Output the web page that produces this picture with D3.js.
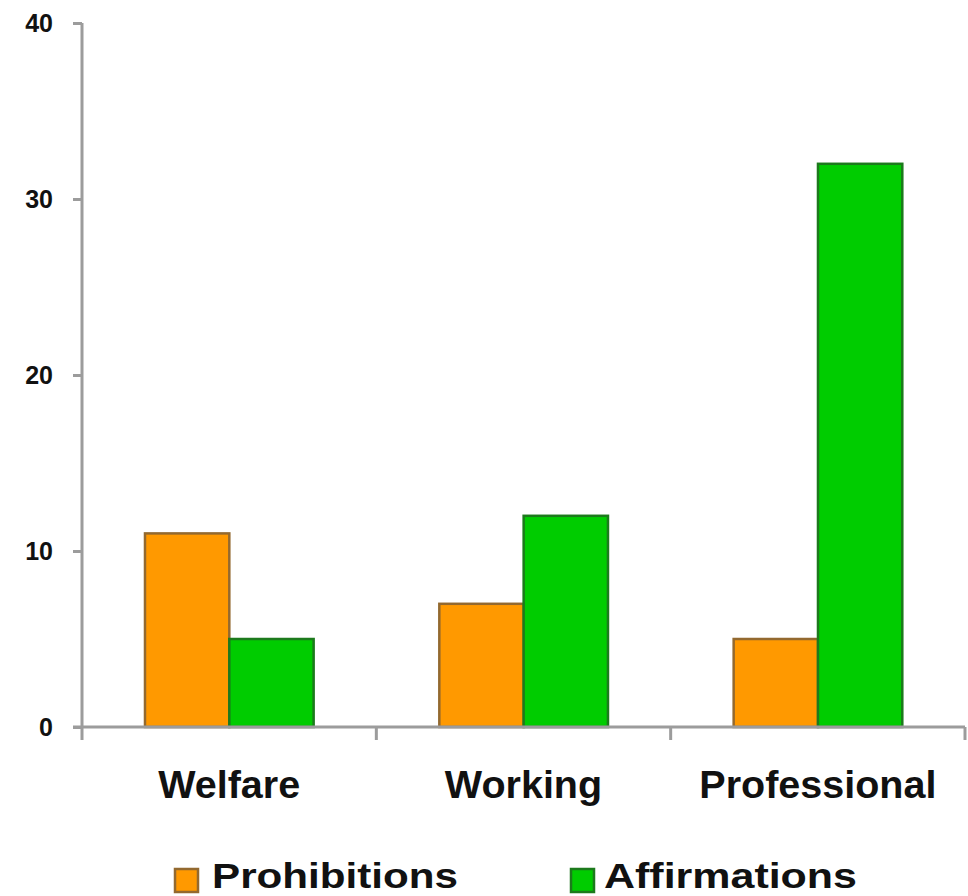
<!DOCTYPE html>
<html><head><meta charset="utf-8">
<script src="https://cdn.jsdelivr.net/npm/d3@7"></script>
<style>body{margin:0;background:#fff}svg{display:block}</style>
</head><body>
<svg id="c" width="968" height="896"></svg>
<script>
const categories = ["Welfare", "Working", "Professional"];
const seriesNames = ["Prohibitions", "Affirmations"];
const prohibitions = [11, 7, 5];
const affirmations = [5, 12, 32];
const yTicks = [0, 10, 20, 30, 40];

const colors = {Prohibitions: "#ff9900", Affirmations: "#00cc00"};
const strokes = {Prohibitions: "#93692f", Affirmations: "#1c7a1c"};
const font = "'Liberation Sans', Arial, sans-serif";

const svg = d3.select("#c");
const mLeft = 82, mRight = 965, mTop = 23, mBottom = 727;

const x = d3.scaleBand().domain(categories).range([mLeft, mRight]).paddingInner(0).paddingOuter(0);
const bw = x.bandwidth();
const xs = d3.scaleBand().domain(seriesNames).range([bw * 0.214, bw * 0.787]).padding(0);
const y = d3.scaleLinear().domain([0, 40]).range([mBottom, mTop]);

const series = [
  {name: "Prohibitions", values: prohibitions},
  {name: "Affirmations", values: affirmations}
];

// y axis
const yAx = svg.append("g").attr("transform", `translate(${mLeft},0)`)
  .call(d3.axisLeft(y).tickValues(yTicks).tickSize(9).tickPadding(20).tickFormat(d3.format("d")));
yAx.select(".domain").attr("stroke", "#9c9c9c").attr("stroke-width", 3)
  .attr("d", `M0,${mTop}V${mBottom + 13}`);
yAx.selectAll(".tick line").attr("stroke", "#9c9c9c").attr("stroke-width", 3);
yAx.selectAll(".tick text").attr("font-family", font).attr("font-weight", "bold")
  .attr("font-size", 25).attr("fill", "#111");

// bars
series.forEach(s => {
  svg.append("g").selectAll("rect").data(categories).join("rect")
    .attr("x", c => x(c) + xs(s.name))
    .attr("y", (c, i) => y(s.values[i]))
    .attr("width", xs.bandwidth())
    .attr("height", (c, i) => y(0) - y(s.values[i]))
    .attr("fill", colors[s.name])
    .attr("stroke", strokes[s.name])
    .attr("stroke-width", 2.5);
});

// x axis
const xAx = svg.append("g").attr("transform", `translate(0,${mBottom})`)
  .call(d3.axisBottom(x).tickSize(0).tickPadding(0));
xAx.select(".domain").attr("stroke", "#9c9c9c").attr("stroke-width", 3)
  .attr("d", `M${mLeft - 9},0H${mRight}`);
xAx.selectAll(".tick text").attr("font-family", font).attr("font-weight", "bold")
  .attr("font-size", 39.5).attr("fill", "#111").attr("dy", null).attr("y", 71);
xAx.selectAll(".bound").data(categories).join("line").attr("class", "bound")
  .attr("x1", c => x(c) + bw).attr("x2", c => x(c) + bw)
  .attr("y1", 0).attr("y2", 13)
  .attr("stroke", "#9c9c9c").attr("stroke-width", 3);

// legend
const legendPos = [{sx: 175, tx: 212, tw: 246}, {sx: 571, tx: 604, tw: 253}];
const lg = svg.append("g");
series.forEach((s, i) => {
  const p = legendPos[i];
  lg.append("rect").attr("x", p.sx).attr("y", 869).attr("width", 23).attr("height", 23)
    .attr("fill", colors[s.name]).attr("stroke", strokes[s.name]).attr("stroke-width", 2.5);
  lg.append("text").attr("x", p.tx).attr("y", 888).text(s.name)
    .attr("font-family", font).attr("font-weight", "bold").attr("font-size", 35)
    .attr("fill", "#111").attr("textLength", p.tw).attr("lengthAdjust", "spacingAndGlyphs");
});
</script>
</body></html>
